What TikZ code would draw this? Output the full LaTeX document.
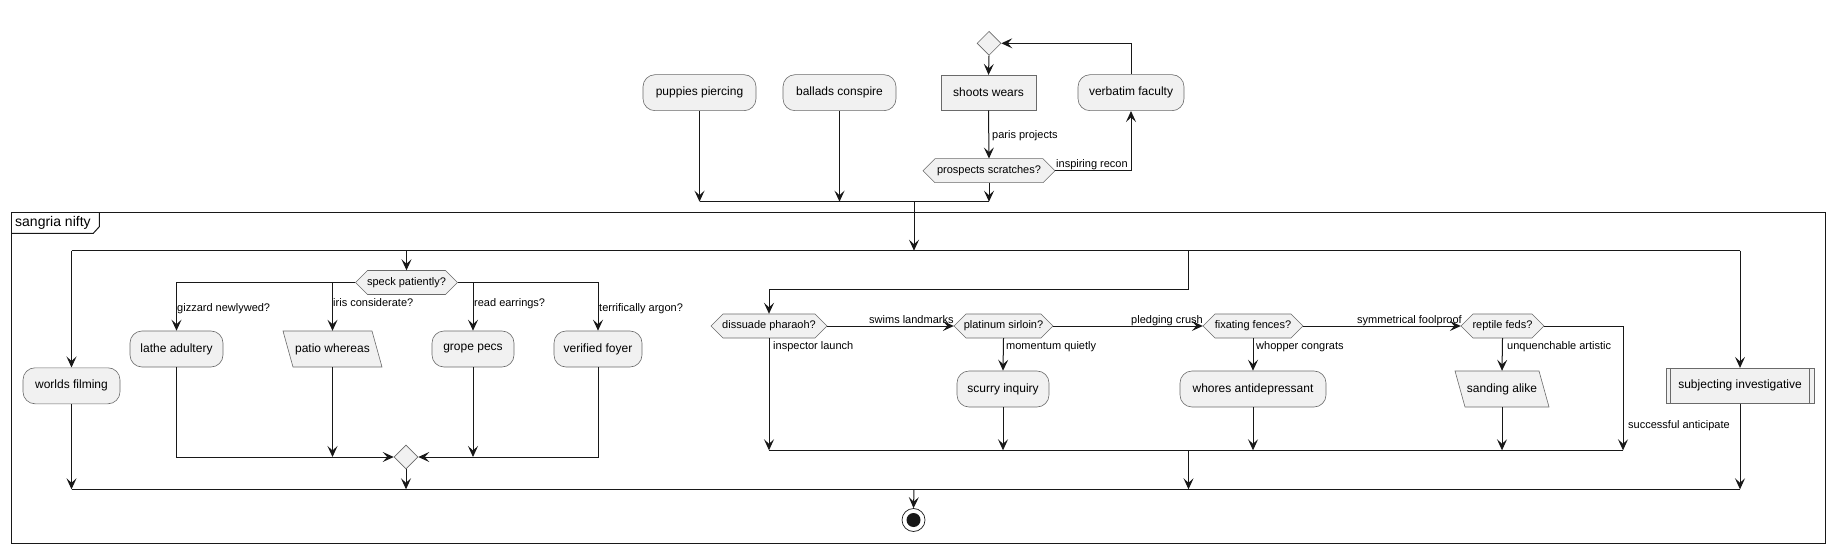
\documentclass[tikz,border=0pt]{standalone}
\usepackage{fontspec}
\setmainfont{Liberation Sans}
\usetikzlibrary{arrows.meta,shapes.geometric}
\definecolor{lc}{HTML}{181818}
\definecolor{bd}{HTML}{6A6A6A}
\definecolor{bg}{HTML}{F1F1F1}
\tikzset{
  conn/.style={draw=lc, line width=1pt},
  arr/.style={conn, -{Stealth[length=11pt,width=10pt,inset=4.5pt]}},
  bar/.style={draw=lc, line width=1.6pt},
  shapeline/.style={draw=bd, line width=0.6pt, fill=bg},
  acttext/.style={inner sep=0pt, minimum height=36pt, font=\fontsize{12}{14}\selectfont},
  act/.style={shapeline, rounded corners=12pt, acttext},
  rectbox/.style={shapeline, acttext, minimum height=35pt},
  hextext/.style={inner sep=0pt, minimum height=24pt, font=\fontsize{11}{13}\selectfont},
  diam/.style={shapeline, diamond, aspect=1, minimum size=24pt, inner sep=0pt},
  lbl/.style={anchor=west, inner sep=0pt, text height=8pt, text depth=2pt, font=\fontsize{11}{13}\selectfont},
}
\newcommand\HexNode[5]{%
  \draw[shapeline] ({#2-#4},#3) -- ({#2-#4+12},{#3-12}) -- ({#2+#4-12},{#3-12}) -- ({#2+#4},#3) -- ({#2+#4-12},{#3+12}) -- ({#2-#4+12},{#3+12}) -- cycle;
  \node[hextext, minimum width={2*#4}] (#1) at (#2,#3) {#5};}
\newcommand\ParaNode[5]{%
  \draw[shapeline] ({#2-#4},{#3-18}) -- ({#2+#4-10},{#3-18}) -- ({#2+#4},{#3+18}) -- ({#2-#4+10},{#3+18}) -- cycle;
  \node[acttext, minimum width={2*#4}] (#1) at (#2,#3) {#5};}
\begin{document}
\begin{tikzpicture}[x=1pt,y=-1pt]
\useasboundingbox (0,0) rectangle (1835,553);

% ---------- top part ----------
\node[diam] (m0) at (989,43.3) {};
\node[rectbox, minimum width=95pt] (shoots) at (988.5,92.7) {shoots wears};
\node[act, minimum width=106pt] (verb) at (1131,92.7) {verbatim faculty};
\node[act, minimum width=113pt] (pup) at (699.5,92.7) {puppies piercing};
\node[act, minimum width=113pt] (bal) at (839.5,92.7) {ballads conspire};
\HexNode{prosp}{989}{170.7}{66}{prospects scratches?}

\coordinate (jt) at (914,201.7);
\coordinate (fk) at (914,250.7);

\draw[arr] (m0.south) -- (shoots.north);
\draw[arr] (shoots.south) -- (prosp.north);
\node[lbl] (lpp) at (992,135.7) {paris projects};
\draw[arr] (prosp.east) -| (verb.south);
\node[lbl] (lir) at (1056,164.3) {inspiring recon};
\draw[arr] (verb.north) |- (m0.east);

\draw[arr] (pup.south) -- (pup.south |- jt);
\draw[arr] (bal.south) -- (bal.south |- jt);
\draw[arr] (prosp.south) -- (prosp.south |- jt);
\draw[bar] (pup.south |- jt) -- (prosp.south |- jt);
\draw[arr] (jt) -- (fk);

% ---------- frame ----------
\draw[draw=lc, line width=1.5pt] (11.7,212.7) rectangle (1825.7,543.3);
\draw[draw=lc, line width=1pt] (11.7,233.3) -- (93.3,233.3) -- (99.3,226.7) -- (99.3,212.7);
\node[anchor=west, inner sep=0pt, font=\fontsize{14}{16}\selectfont] (ftitle) at (15,223) {sangria nifty};

% ---------- fork ----------
\node[act, minimum width=97pt] (worlds) at (71.5,385.8) {worlds filming};
\HexNode{speck}{406.5}{282.5}{51}{speck patiently?}
\node[act, minimum width=93pt] (lathe) at (176.5,349) {lathe adultery};
\ParaNode{patio}{332.5}{349}{49.5}{patio whereas}
\node[act, minimum width=82pt] (grope) at (473,349) {grope pecs};
\node[act, minimum width=88pt] (ver) at (598,349) {verified foyer};
\node[diam] (m1) at (406,457) {};

\HexNode{diss}{769}{326}{58}{dissuade pharaoh?}
\HexNode{plat}{1003.5}{326}{49.5}{platinum sirloin?}
\HexNode{fix}{1253}{326}{50}{fixating fences?}
\HexNode{rept}{1502.5}{326}{41.5}{reptile feds?}
\node[act, minimum width=92pt] (scurry) at (1003,389) {scurry inquiry};
\node[act, minimum width=146pt] (whores) at (1253,389) {whores antidepressant};
\ParaNode{sand}{1502}{389}{47}{sanding alike}

\node[rectbox, minimum width=148pt] (subj) at (1740,385.7) {subjecting investigative};
\draw[draw=bd, line width=0.6pt] ([xshift=5pt]subj.north west) -- ([xshift=5pt]subj.south west);
\draw[draw=bd, line width=0.6pt] ([xshift=-5pt]subj.north east) -- ([xshift=-5pt]subj.south east);

\node[circle, draw=lc, line width=0.7pt, minimum size=23pt, inner sep=0pt] (end) at (913.5,520) {};
\fill[lc] (end.center) circle (7pt);

\coordinate (fl) at (71.5,250.7);
\coordinate (fr) at (1740,250.7);
\coordinate (fd) at (1188,250.7);
\coordinate (fdb) at (1188,289.3);
\coordinate (ij) at (1188.5,450.3);
\coordinate (ijr) at (1623,450.3);
\coordinate (mj) at (914,489.3);

\draw[bar] (fl) -- (fr);
\draw[arr] (fl) -- (worlds.north);
\draw[arr] (speck.north |- fk) -- (speck.north);
\draw[arr] (fd) -- (fdb) -| (diss.north);
\draw[arr] (fr) -- (subj.north);

% speck branches
\draw[arr] (speck.west) -| (lathe.north);
\draw[arr] (patio.north |- speck.west) -- (patio.north);
\draw[arr] (speck.east) -| (ver.north);
\draw[arr] (grope.north |- speck.east) -- (grope.north);
\node[lbl] (lgn) at (177,308) {gizzard newlywed?};
\node[lbl] (lic) at (333,303) {iris considerate?};
\node[lbl] (lre) at (474,303) {read earrings?};
\node[lbl] (lta) at (599,308) {terrifically argon?};

\draw[arr] (lathe.south) |- (m1.west);
\draw[arr] (ver.south) |- (m1.east);
\draw[arr] (patio.south) -- (patio.south |- m1.west);
\draw[arr] (grope.south) -- (grope.south |- m1.east);

% dissuade chain
\draw[arr] (diss.east) -- (plat.west);
\node[lbl] (lsl) at (869,320) {swims landmarks};
\draw[arr] (plat.east) -- (fix.west);
\node[lbl] (lpc) at (1131,320) {pledging crush};
\draw[arr] (fix.east) -- (rept.west);
\node[lbl] (lsf) at (1357,320) {symmetrical foolproof};
\draw[arr] (rept.east) -| (ijr);
\node[lbl] (lsa) at (1628,425.7) {successful anticipate};

\draw[arr] (diss.south) -- (diss.south |- ij);
\node[lbl] (lil) at (773,346) {inspector launch};
\draw[arr] (plat.south) -- (scurry.north);
\node[lbl] (lmq) at (1006,346) {momentum quietly};
\draw[arr] (fix.south) -- (whores.north);
\node[lbl] (lwc) at (1256,346) {whopper congrats};
\draw[arr] (rept.south) -- (sand.north);
\node[lbl] (lua) at (1507,346) {unquenchable artistic};

\draw[arr] (scurry.south) -- (scurry.south |- ij);
\draw[arr] (whores.south) -- (whores.south |- ij);
\draw[arr] (sand.south) -- (sand.south |- ij);
\draw[bar] (diss.south |- ij) -- (ijr);
\draw[arr] (ij) -- (ij |- mj);

% main join
\draw[arr] (worlds.south) -- (worlds.south |- mj);
\draw[arr] (m1.south) -- (m1.south |- mj);
\draw[arr] (subj.south) -- (subj.south |- mj);
\draw[bar] (worlds.south |- mj) -- (subj.south |- mj);
\draw[arr] (mj) -- (end.north);
\end{tikzpicture}
\end{document}
